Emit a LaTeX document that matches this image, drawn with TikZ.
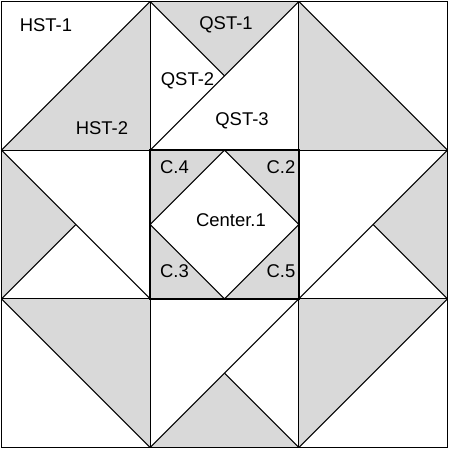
\documentclass[tikz,border=0pt]{standalone}
\usepackage{fontspec}
\setmainfont{Liberation Sans}
\usepackage{tikz}
\definecolor{patchgray}{HTML}{D9D9D9}
\tikzstyle{patch} = [fill=patchgray]
\tikzstyle{seam} = [draw=black, line width=0.6pt]
\tikzstyle{frame} = [draw=black, line width=0.9pt]
\tikzstyle{centerframe} = [draw=black, line width=1pt]
\tikzstyle{piece} = [font=\fontsize{10.5}{12}\selectfont, inner sep=0pt]

\begin{document}
\begin{tikzpicture}[x=0.02cm, y=-0.02cm]
\useasboundingbox (0,0) rectangle (450,450);
% gray patches
\fill [patch] (150.2,1.5) -- (150.2,150.2) -- (1.5,150.2) -- cycle;
\fill [patch] (150.2,1.5) -- (298.8,1.5) -- (224.5,75.85) -- cycle;
\fill [patch] (298.8,1.5) -- (298.8,150.2) -- (447.5,150.2) -- cycle;
\fill [patch] (1.5,150.2) -- (1.5,298.8) -- (75.85,224.5) -- cycle;
\fill [patch] (447.5,150.2) -- (447.5,298.8) -- (373.15,224.5) -- cycle;
\fill [patch] (1.5,298.8) -- (150.2,298.8) -- (150.2,447.5) -- cycle;
\fill [patch] (150.2,447.5) -- (298.8,447.5) -- (224.5,373.15) -- cycle;
\fill [patch] (298.8,298.8) -- (447.5,298.8) -- (298.8,447.5) -- cycle;
\fill [patch] (150.2,150.2) rectangle (298.8,298.8);
\fill [white] (224.5,150.2) -- (298.8,224.5) -- (224.5,298.8) -- (150.2,224.5) -- cycle;

% seams
\draw [seam] (150.2,1.5) -- (150.2,447.5);
\draw [seam] (298.8,1.5) -- (298.8,447.5);
\draw [seam] (1.5,150.2) -- (447.5,150.2);
\draw [seam] (1.5,298.8) -- (447.5,298.8);
\draw [seam] (1.5,150.2) -- (150.2,1.5);
\draw [seam] (298.8,1.5) -- (150.2,150.2);
\draw [seam] (150.2,1.5) -- (224.5,75.85);
\draw [seam] (298.8,1.5) -- (447.5,150.2);
\draw [seam] (1.5,150.2) -- (150.2,298.8);
\draw [seam] (1.5,298.8) -- (75.85,224.5);
\draw [seam] (447.5,150.2) -- (298.8,298.8);
\draw [seam] (373.15,224.5) -- (447.5,298.8);
\draw [seam] (1.5,298.8) -- (150.2,447.5);
\draw [seam] (150.2,447.5) -- (298.8,298.8);
\draw [seam] (224.5,373.15) -- (298.8,447.5);
\draw [seam] (298.8,447.5) -- (447.5,298.8);
\draw [seam] (224.5,150.2) -- (298.8,224.5) -- (224.5,298.8) -- (150.2,224.5) -- cycle;
\draw [centerframe] (150.2,150.2) rectangle (298.8,298.8);
\draw [frame] (1.5,1.5) rectangle (447.5,447.5);

% piece names
\node (hst1) [piece] at (46,25) {HST-1};
\node (hst2) [piece] at (102,128) {HST-2};
\node (qst1) [piece] at (226,25) {QST-1};
\node (qst2) [piece] at (187.5,81) {QST-2};
\node (qst3) [piece] at (242,121) {QST-3};
\node (c4) [piece] at (174.5,167.5) {C.4};
\node (c2) [piece] at (281,167.5) {C.2};
\node (center1) [piece] at (231,220) {Center.1};
\node (c3) [piece] at (174.5,271) {C.3};
\node (c5) [piece] at (281,271) {C.5};
\end{tikzpicture}
\end{document}
